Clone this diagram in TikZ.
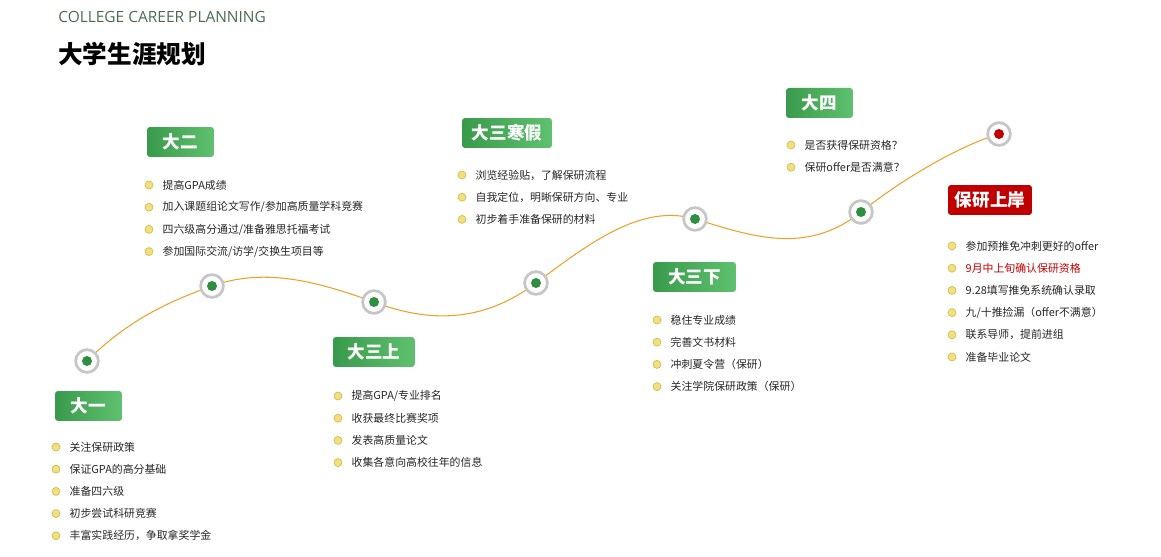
\documentclass[tikz,border=0pt]{standalone}
\usepackage{fontspec}
\setmainfont{Noto Sans CJK SC}
\newfontfamily\headfont{Open Sans}
\usetikzlibrary{positioning,backgrounds}
\definecolor{GreenDark}{HTML}{3A9A4B}
\definecolor{GreenLight}{HTML}{5FC170}
\definecolor{DotGreen}{HTML}{2F8E42}
\definecolor{RingGray}{HTML}{C6C6C6}
\definecolor{BulletYellow}{HTML}{F3E07C}
\definecolor{BulletEdge}{HTML}{D2BC58}
\definecolor{TextGray}{HTML}{262626}
\definecolor{HeadGreen}{HTML}{4A6B50}
\definecolor{RedMark}{HTML}{C00000}
\definecolor{CurveOrange}{HTML}{F0A028}

\begin{document}
\begin{tikzpicture}[x=0.02cm,y=-0.02cm,
    tag/.style={text=white,font=\fontsize{10}{12}\selectfont\bfseries,minimum height=0.6cm,inner sep=0pt,rounded corners=0.06cm},
    stage/.style={tag,left color=GreenDark,right color=GreenLight},
    goal/.style={tag,fill=RedMark},
    ring/.style={circle,draw=RingGray,line width=0.055cm,fill=white,minimum size=0.455cm,inner sep=0pt,
      path picture={\fill[#1] (path picture bounding box.center) circle (0.1cm);}},
    ring/.default=DotGreen,
    bullet/.style={circle,fill=BulletYellow,draw=BulletEdge,line width=0.4pt,minimum size=0.16cm,inner sep=0pt},
    item/.style={anchor=west,inner sep=0pt,text=TextGray,font=\fontsize{6.2}{7}\selectfont},
    curve/.style={CurveOrange,line width=0.6pt}]
    \useasboundingbox (0,0) rectangle (1161,557);

    % title
    \node[anchor=west,inner sep=0pt,text=HeadGreen,font=\headfont\fontsize{8.8}{10}\selectfont] (head) at (58,17) {COLLEGE CAREER PLANNING};
    \node[anchor=west,inner sep=0pt,font=\fontsize{14}{16}\selectfont\bfseries] (title) at (58,54) {大学生涯规划};

    % milestones
    \node[ring] (m1) at (87,361) {};
    \node[ring] (m2) at (212,286) {};
    \node[ring] (m3) at (374,302) {};
    \node[ring] (m4) at (536,283) {};
    \node[ring] (m5) at (695,219) {};
    \node[ring] (m6) at (861,212) {};
    \node[ring=RedMark] (m7) at (999,134) {};
    \begin{scope}[on background layer]
      \draw[curve] (m1.center) .. controls (128.7,319.3) and (170.3,301) .. (m2.center)
        .. controls (266,266.6) and (320,282.6) .. (m3.center)
        .. controls (428,322.5) and (482,323.5) .. (m4.center)
        .. controls (589,243.3) and (642,203.1) .. (m5.center)
        .. controls (750,235.6) and (806,256.2) .. (m6.center)
        .. controls (895,184.8) and (953,147.8) .. (m7.center);
    \end{scope}

    % stage labels
    \node[stage,minimum width=1.34cm] (s1) at (88.5,406) {大一};
    \node[stage,minimum width=1.34cm] (s2) at (180.5,142) {大二};
    \node[stage,minimum width=1.64cm] (s3) at (374,352) {大三上};
    \node[stage,minimum width=1.8cm] (s4) at (507,133) {大三寒假};
    \node[stage,minimum width=1.66cm] (s5) at (694.5,277) {大三下};
    \node[stage,minimum width=1.34cm] (s6) at (819.5,103) {大四};
    \node[goal,minimum width=1.68cm] (s7) at (990,200) {保研上岸};

    % lists
    \foreach \t [count=\i] in {关注保研政策,保证GPA的高分基础,准备四六级,初步尝试科研竞赛,丰富实践经历，争取拿奖学金}
      {\node[bullet] (b1-\i) at (56,{447+22.2*(\i-1)}) {};
       \node[item,right=0.18cm of b1-\i] (t1-\i) {\t};}
    \foreach \t [count=\i] in {提高GPA成绩,加入课题组论文写作/参加高质量学科竞赛,四六级高分通过/准备雅思托福考试,参加国际交流/访学/交换生项目等}
      {\node[bullet] (b2-\i) at (149,{185+22.2*(\i-1)}) {};
       \node[item,right=0.18cm of b2-\i] (t2-\i) {\t};}
    \foreach \t [count=\i] in {提高GPA/专业排名,收获最终比赛奖项,发表高质量论文,收集各意向高校往年的信息}
      {\node[bullet] (b3-\i) at (338,{396+22.2*(\i-1)}) {};
       \node[item,right=0.18cm of b3-\i] (t3-\i) {\t};}
    \foreach \t [count=\i] in {浏览经验贴，了解保研流程,自我定位，明晰保研方向、专业,初步着手准备保研的材料}
      {\node[bullet] (b4-\i) at (462,{175+22.2*(\i-1)}) {};
       \node[item,right=0.18cm of b4-\i] (t4-\i) {\t};}
    \foreach \t [count=\i] in {稳住专业成绩,完善文书材料,冲刺夏令营（保研）,关注学院保研政策（保研）}
      {\node[bullet] (b5-\i) at (657,{320+22.2*(\i-1)}) {};
       \node[item,right=0.18cm of b5-\i] (t5-\i) {\t};}
    \foreach \t [count=\i] in {是否获得保研资格？,保研offer是否满意？}
      {\node[bullet] (b6-\i) at (791,{145+22.2*(\i-1)}) {};
       \node[item,right=0.18cm of b6-\i] (t6-\i) {\t};}
    \foreach \t/\c [count=\i] in {参加预推免冲刺更好的offer/TextGray,9月中上旬确认保研资格/RedMark,9.28填写推免系统确认录取/TextGray,{九/十推捡漏（offer不满意）}/TextGray,联系导师，提前进组/TextGray,准备毕业论文/TextGray}
      {\node[bullet] (b7-\i) at (952,{246+22.2*(\i-1)}) {};
       \node[item,text=\c,right=0.18cm of b7-\i] (t7-\i) {\t};}
\end{tikzpicture}
\end{document}
